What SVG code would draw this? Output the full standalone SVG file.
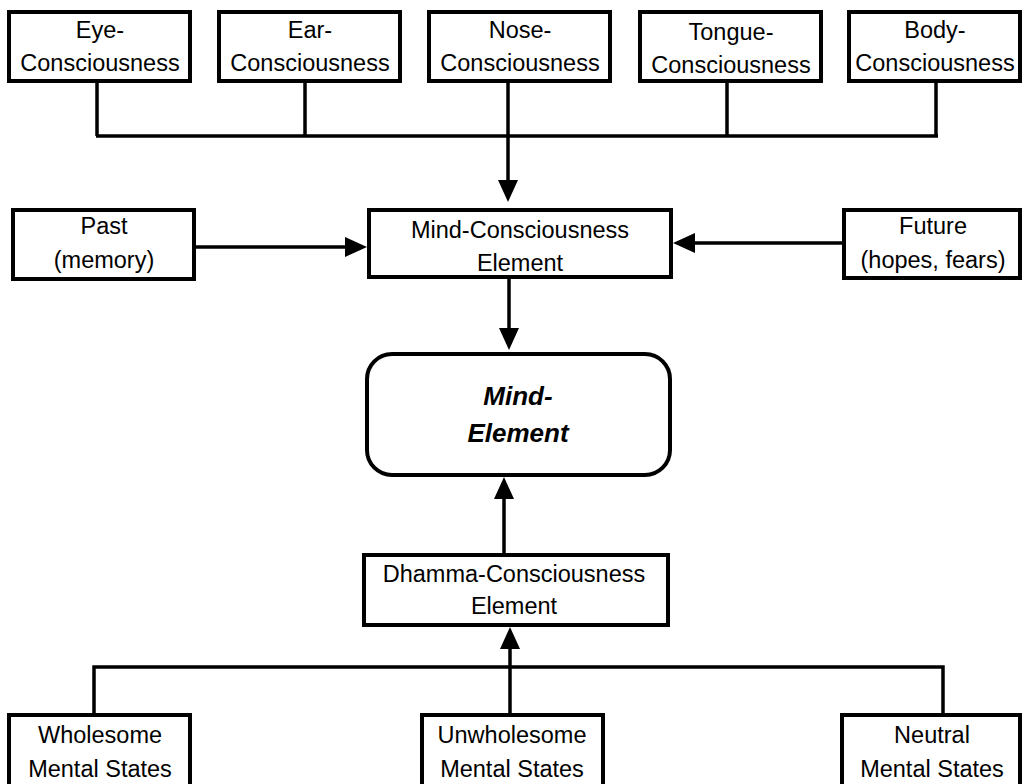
<svg xmlns="http://www.w3.org/2000/svg" width="1028" height="784" viewBox="0 0 1028 784">
<style>
.box{fill:#fff;stroke:#000;stroke-width:4}
.t{font-family:"Liberation Sans",Arial,sans-serif;font-size:23.5px;fill:#000;text-anchor:middle}
.it{font-style:italic;font-weight:bold;font-size:26px}
.c{fill:none;stroke:#000;stroke-width:3.5}
</style>
<defs>
<marker id="ah" viewBox="0 0 22 20" refX="4" refY="10" markerWidth="22" markerHeight="20" markerUnits="userSpaceOnUse" orient="auto">
<path d="M0,0 L22,10 L0,20 z" fill="#000"/>
</marker>
</defs>
<rect width="1028" height="784" fill="#fff"/>
<g id="connectors">
<path class="c" d="M97,83 V136 M305,83 V136 M727,83 V136 M936,83 V136 M96,136 H938"/>
<path class="c" d="M508,83 V184" marker-end="url(#ah)"/>
<path class="c" d="M196,247 H349" marker-end="url(#ah)"/>
<path class="c" d="M842,243 H691" marker-end="url(#ah)"/>
<path class="c" d="M509,279 V332" marker-end="url(#ah)"/>
<path class="c" d="M504,553 V495" marker-end="url(#ah)"/>
<path class="c" d="M94,715 V667 H943 V715"/>
<path class="c" d="M510,713 V645" marker-end="url(#ah)"/>
</g>
<g id="eye"><rect class="box" x="9" y="12" width="181" height="69"/><text class="t" x="100" y="38">Eye-</text><text class="t" x="100" y="71">Consciousness</text></g>
<g id="ear"><rect class="box" x="219" y="12" width="181" height="69"/><text class="t" x="310" y="38">Ear-</text><text class="t" x="310" y="71">Consciousness</text></g>
<g id="nose"><rect class="box" x="429" y="12" width="181" height="69"/><text class="t" x="520" y="38">Nose-</text><text class="t" x="520" y="71">Consciousness</text></g>
<g id="tongue"><rect class="box" x="640" y="12" width="181" height="69"/><text class="t" x="731" y="40">Tongue-</text><text class="t" x="731" y="73">Consciousness</text></g>
<g id="body"><rect class="box" x="849" y="12" width="171" height="69"/><text class="t" x="935" y="38">Body-</text><text class="t" x="935" y="71">Consciousness</text></g>
<g id="past"><rect class="box" x="13" y="210" width="181" height="69"/><text class="t" x="104" y="234">Past</text><text class="t" x="104" y="268">(memory)</text></g>
<g id="mindcons"><rect class="box" x="369" y="210" width="302" height="67"/><text class="t" x="520" y="238">Mind-Consciousness</text><text class="t" x="520" y="271">Element</text></g>
<g id="future"><rect class="box" x="844" y="210" width="176" height="68"/><text class="t" x="933" y="234">Future</text><text class="t" x="933" y="268">(hopes, fears)</text></g>
<g id="mindelement"><rect class="box" x="367" y="354" width="303" height="121" rx="25" ry="25"/><text class="t it" x="518" y="405">Mind-</text><text class="t it" x="518" y="442">Element</text></g>
<g id="dhamma"><rect class="box" x="364" y="555" width="304" height="70"/><text class="t" x="514" y="582">Dhamma-Consciousness</text><text class="t" x="514" y="614">Element</text></g>
<g id="wholesome"><rect class="box" x="9" y="715" width="181" height="90"/><text class="t" x="100" y="743">Wholesome</text><text class="t" x="100" y="777">Mental States</text></g>
<g id="unwholesome"><rect class="box" x="422" y="715" width="181" height="90"/><text class="t" x="512" y="743">Unwholesome</text><text class="t" x="512" y="777">Mental States</text></g>
<g id="neutral"><rect class="box" x="842" y="715" width="178" height="90"/><text class="t" x="932" y="743">Neutral</text><text class="t" x="932" y="777">Mental States</text></g>
</svg>
